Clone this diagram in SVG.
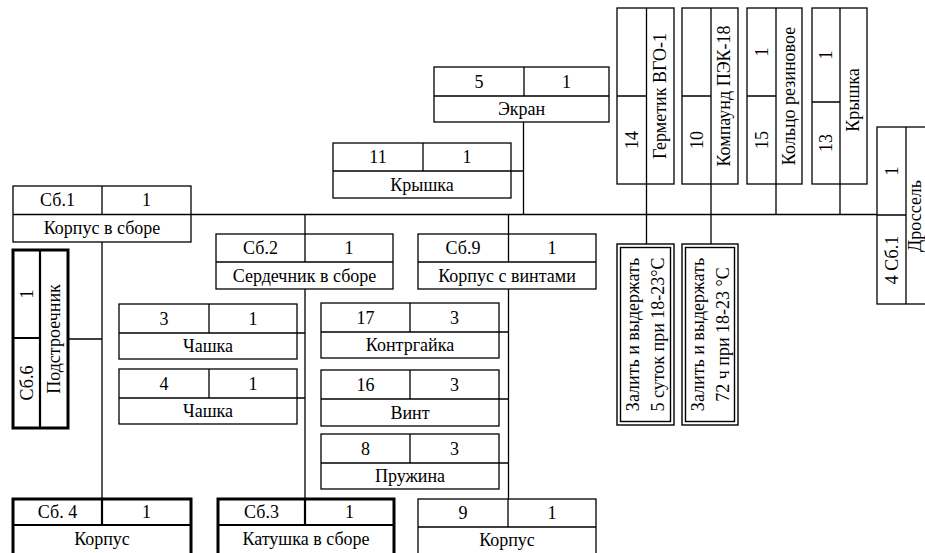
<svg xmlns="http://www.w3.org/2000/svg" width="925" height="553" viewBox="0 0 925 553">
<style>
.b{fill:#fff;stroke:#000;stroke-width:1.3}
.d{stroke:#000;stroke-width:1.3;fill:none}
.tb{fill:#fff;stroke:#000;stroke-width:3}
.td{stroke:#000;stroke-width:2.2;fill:none}
.n{fill:none;stroke:#000;stroke-width:1.4}
.t{font-family:'Liberation Serif','DejaVu Serif',serif;font-size:18px;fill:#000;text-anchor:middle}
</style>
<rect width="925" height="553" fill="#fff"/>
<g id="connectors" class="d">
<path d="M191 214.5H878"/>
<path d="M102 242V499M68 339H102"/>
<path d="M305 214.5V234M305 289V499M297 333H305M297 398H305"/>
<path d="M508.5 214.5V234M508.5 289V499M499 332H508.5M499 399H508.5M499 463H508.5"/>
<path d="M523.5 122V214.5M511 171H523.5"/>
<path d="M646.5 184V244M711 184V244M776 184V214.5M840 184V214.5"/>
</g>
<g class="t">
<g id="sb1"><rect class="b" x="13" y="186" width="178" height="56"/><path class="d" d="M13 214.5H191M102 186V214.5"/>
<text x="57.5" y="206">Сб.1</text><text x="146.5" y="206">1</text><text x="102" y="234">Корпус в сборе</text></g>
<g id="ekran"><rect class="b" x="434" y="67" width="175" height="55"/><path class="d" d="M434 96H609M524 67V96"/>
<text x="479" y="88">5</text><text x="566.5" y="88">1</text><text x="521.5" y="115">Экран</text></g>
<g id="kryshka11"><rect class="b" x="333" y="143" width="178" height="55"/><path class="d" d="M333 171H511M423 143V171"/>
<text x="378" y="163">11</text><text x="467" y="163">1</text><text x="422" y="191">Крышка</text></g>
<g id="sb2"><rect class="b" x="216" y="234" width="177" height="55"/><path class="d" d="M216 262H393M305 234V262"/>
<text x="260.5" y="254">Сб.2</text><text x="349" y="254">1</text><text x="304.5" y="282">Сердечник в сборе</text></g>
<g id="sb9"><rect class="b" x="418" y="234" width="178" height="55"/><path class="d" d="M418 262H596M508.5 234V262"/>
<text x="463" y="254">Сб.9</text><text x="552" y="254">1</text><text x="507" y="282">Корпус с винтами</text></g>
<g id="chashka3"><rect class="b" x="119" y="304" width="178" height="55"/><path class="d" d="M119 333H297M209 304V333"/>
<text x="164" y="325">3</text><text x="253" y="325">1</text><text x="208" y="352">Чашка</text></g>
<g id="chashka4"><rect class="b" x="119" y="369" width="178" height="55"/><path class="d" d="M119 398H297M209 369V398"/>
<text x="164" y="390">4</text><text x="253" y="390">1</text><text x="208" y="417">Чашка</text></g>
<g id="kontrgaika"><rect class="b" x="321" y="303" width="178" height="55"/><path class="d" d="M321 332H499M410 303V332"/>
<text x="365.5" y="324">17</text><text x="454.5" y="324">3</text><text x="410" y="351">Контргайка</text></g>
<g id="vint"><rect class="b" x="321" y="370" width="178" height="56"/><path class="d" d="M321 399H499M410 370V399"/>
<text x="365.5" y="391">16</text><text x="454.5" y="391">3</text><text x="410" y="419">Винт</text></g>
<g id="pruzhina"><rect class="b" x="321" y="434" width="178" height="55"/><path class="d" d="M321 463H499M410 434V463"/>
<text x="365.5" y="455">8</text><text x="454.5" y="455">3</text><text x="410" y="482">Пружина</text></g>
<g id="sb6"><rect class="tb" x="13" y="250" width="55" height="178"/><path class="td" d="M40 250V428M13 338H40"/>
<text transform="translate(33 294) rotate(-90)">1</text>
<text transform="translate(33 383) rotate(-90)">Сб.6</text>
<text transform="translate(60 339) rotate(-90)">Подстроечник</text></g>
<g id="sb4"><rect class="tb" x="13" y="499" width="178" height="60"/><path class="td" d="M13 525H191M102 499V525"/>
<text x="57.5" y="518">Сб. 4</text><text x="146.5" y="518">1</text><text x="102" y="545">Корпус</text></g>
<g id="sb3"><rect class="tb" x="218" y="499" width="176" height="60"/><path class="td" d="M218 525H394M305 499V525"/>
<text x="261.5" y="518">Сб.3</text><text x="349.5" y="518">1</text><text x="306" y="545">Катушка в сборе</text></g>
<g id="korpus9"><rect class="b" x="418" y="499" width="178" height="60"/><path class="d" d="M418 527H596M508 499V527"/>
<text x="463" y="519">9</text><text x="552" y="519">1</text><text x="507" y="546">Корпус</text></g>
<g id="germetik"><rect class="b" x="617" y="8" width="57" height="176"/><path class="d" d="M646.5 8V184M617 96H646.5"/>
<text transform="translate(638 140) rotate(-90)">14</text>
<text transform="translate(666 96) rotate(-90)">Герметик ВГО-1</text></g>
<g id="kompaund"><rect class="b" x="682" y="8" width="56" height="176"/><path class="d" d="M711 8V184M682 96H711"/>
<text transform="translate(702.5 140) rotate(-90)">10</text>
<text transform="translate(730 96) rotate(-90)">Компаунд ПЭК-18</text></g>
<g id="koltso"><rect class="b" x="747" y="8" width="55" height="176"/><path class="d" d="M776 8V184M747 96H776"/>
<text transform="translate(767.5 52) rotate(-90)">1</text>
<text transform="translate(767.5 140) rotate(-90)">15</text>
<text transform="translate(795 96) rotate(-90)">Кольцо резиновое</text></g>
<g id="kryshka13"><rect class="b" x="812" y="8" width="55" height="176"/><path class="d" d="M840 8V184M812 102H840"/>
<text transform="translate(832 55) rotate(-90)">1</text>
<text transform="translate(832 143) rotate(-90)">13</text>
<text transform="translate(859 100) rotate(-90)">Крышка</text></g>
<g id="drossel"><rect class="b" x="877" y="127" width="70" height="177"/><path class="d" d="M906 127V304M877 215H906"/>
<text transform="translate(897.5 171) rotate(-90)">1</text>
<text transform="translate(897.5 260) rotate(-90)">4 Сб.1</text>
<text transform="translate(921 216) rotate(-90)">Дроссель</text></g>
<g id="note1"><rect class="n" x="617" y="244" width="57" height="181"/><rect class="n" x="620.5" y="247.5" width="50" height="174"/>
<text transform="translate(639 334.5) rotate(-90)">Залить и выдержать</text>
<text transform="translate(664 334.5) rotate(-90)">5 суток при 18-23°С</text></g>
<g id="note2"><rect class="n" x="682" y="244" width="56" height="181"/><rect class="n" x="685.5" y="247.5" width="49" height="174"/>
<text transform="translate(704 334.5) rotate(-90)">Залить и выдержать</text>
<text transform="translate(729 334.5) rotate(-90)">72 ч при 18-23 °С</text></g>
</g>
</svg>
